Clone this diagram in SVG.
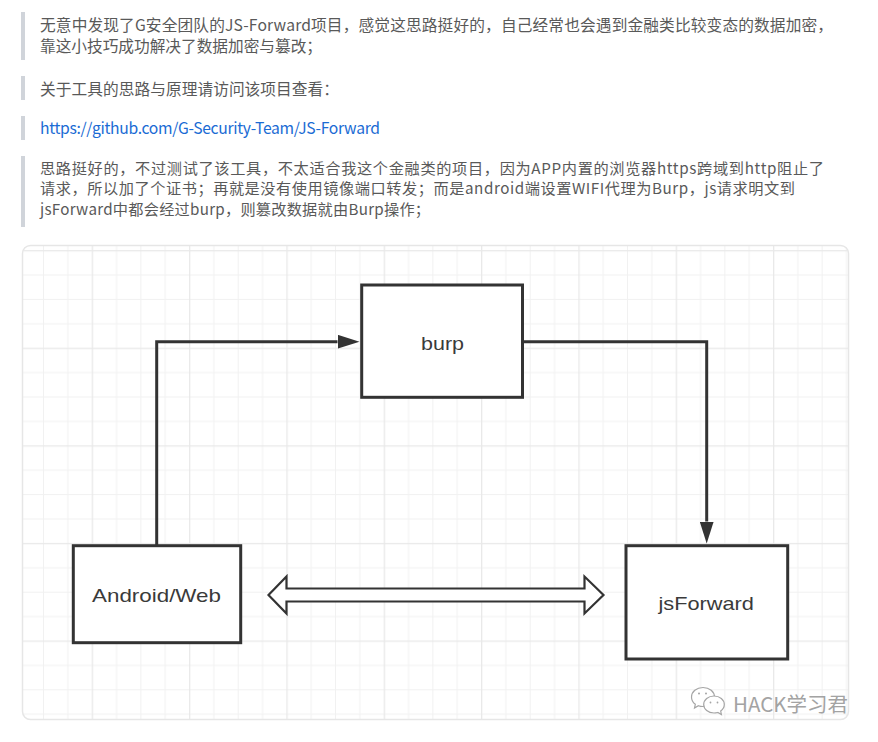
<svg xmlns="http://www.w3.org/2000/svg" width="878" height="742" viewBox="0 0 878 742">
  <style>
    .bar { fill: #d0d4da; }
    .body { font-family: "Noto Sans CJK SC", "Noto Sans", sans-serif; font-size: 15.7px; fill: #595959; }
    .tight { font-size: 15.2px; }
    .link { fill: #1a6bd4; }
    .box { fill: #ffffff; stroke: #333333; stroke-width: 3; }
    .label { font-family: "Liberation Sans", Arial, sans-serif; font-size: 19px; fill: #3a3a3a; text-anchor: middle; }
    .conn { fill: none; stroke: #333333; stroke-width: 3; }
    .wm { font-family: "Noto Sans CJK SC", sans-serif; font-size: 20px; fill: #a3a3a3; }
  </style>
  <defs>
    <marker id="arrow" markerUnits="userSpaceOnUse" markerWidth="22" markerHeight="14" refX="0" refY="7" orient="auto" viewBox="0 0 22 14">
      <path d="M0,0 L22,7 L0,14 z" fill="#333333"/>
    </marker>
    <pattern id="grid" patternUnits="userSpaceOnUse" x="91.7" y="347.7" width="97.33" height="97.6">
      <rect x="24.33" y="0" width="1" height="97.6" fill="#f1f1f1"/>
      <rect x="48.67" y="0" width="1" height="97.6" fill="#f1f1f1"/>
      <rect x="73" y="0" width="1" height="97.6" fill="#f1f1f1"/>
      <rect x="0" y="24.4" width="97.33" height="1" fill="#f1f1f1"/>
      <rect x="0" y="48.8" width="97.33" height="1" fill="#f1f1f1"/>
      <rect x="0" y="73.2" width="97.33" height="1" fill="#f1f1f1"/>
      <rect x="0" y="0" width="1.3" height="97.6" fill="#e9e9e9"/>
      <rect x="0" y="0" width="97.33" height="1.3" fill="#e9e9e9"/>
    </pattern>
    <clipPath id="cardclip">
      <rect x="22.5" y="245.5" width="826" height="474" rx="8"/>
    </clipPath>
  </defs>

  <rect width="878" height="742" fill="#ffffff"/>

  <!-- text blocks -->
  <g id="text">
    <rect class="bar" x="21" y="12" width="4" height="48"/>
    <rect class="bar" x="21" y="76" width="4" height="24"/>
    <rect class="bar" x="21" y="116" width="4" height="24"/>
    <rect class="bar" x="21" y="156" width="4" height="71"/>
    <text class="body" x="40" y="31" textLength="793" lengthAdjust="spacing">无意中发现了G安全团队的JS-Forward项目，感觉这思路挺好的，自己经常也会遇到金融类比较变态的数据加密，</text>
    <text class="body" x="40" y="52" textLength="282" lengthAdjust="spacing">靠这小技巧成功解决了数据加密与篡改；</text>
    <text class="body" x="40" y="95" textLength="299" lengthAdjust="spacing">关于工具的思路与原理请访问该项目查看：</text>
    <text class="body link" x="40" y="134" textLength="340" lengthAdjust="spacing">https://github.com/G-Security-Team/JS-Forward</text>
    <text class="body tight" x="40" y="173.5" textLength="784" lengthAdjust="spacing">思路挺好的，不过测试了该工具，不太适合我这个金融类的项目，因为APP内置的浏览器https跨域到http阻止了</text>
    <text class="body tight" x="40" y="194" textLength="755" lengthAdjust="spacing">请求，所以加了个证书；再就是没有使用镜像端口转发；而是android端设置WIFI代理为Burp，js请求明文到</text>
    <text class="body tight" x="40" y="214.5" textLength="390" lengthAdjust="spacing">jsForward中都会经过burp，则篡改数据就由Burp操作；</text>
  </g>

  <!-- card with grid -->
  <g id="canvas">
    <rect x="22.5" y="245.5" width="826" height="474" rx="8" fill="#ffffff"/>
    <rect x="22.5" y="245.5" width="826" height="474" fill="url(#grid)" clip-path="url(#cardclip)"/>
    <rect x="22.5" y="245.5" width="826" height="474" rx="8" fill="none" stroke="#e6e6e6" stroke-width="1.5"/>
  </g>

  <!-- connectors -->
  <g id="connectors">
    <path class="conn" d="M156.7,545 V341.7 H337.5" marker-end="url(#arrow)"/>
    <path class="conn" d="M523,341.7 H706.7 V521.5" marker-end="url(#arrow)"/>
    <polygon points="268.5,595 286.5,576.5 286.5,588.5 584.5,588.5 584.5,576.5 603.5,595 584.5,613.5 584.5,601.5 286.5,601.5 286.5,613.5" fill="#ffffff" stroke="#333333" stroke-width="2.2" stroke-linejoin="miter"/>
  </g>

  <!-- nodes -->
  <g id="node-burp">
    <rect class="box" x="361.7" y="285" width="160.8" height="112.3"/>
    <text class="label" x="442.5" y="350" textLength="43" lengthAdjust="spacingAndGlyphs">burp</text>
  </g>
  <g id="node-android">
    <rect class="box" x="73.3" y="545.7" width="167.4" height="97"/>
    <text class="label" x="156.5" y="601.7" textLength="129" lengthAdjust="spacingAndGlyphs">Android/Web</text>
  </g>
  <g id="node-jsforward">
    <rect class="box" x="626" y="545.7" width="161.7" height="113.3"/>
    <text class="label" x="706.2" y="610" textLength="95.5" lengthAdjust="spacingAndGlyphs">jsForward</text>
  </g>

  <!-- watermark -->
  <g id="watermark">
    <path d="M703,687.5 C709.5,687.5 714.5,691.8 714.5,697 C714.5,702.2 709.5,706.5 703,706.5 C701.3,706.5 699.8,706.2 698.4,705.7 L694.5,708 L695.3,704.3 C692.9,702.6 691.5,700 691.5,697 C691.5,691.8 696.5,687.5 703,687.5 z" fill="#ffffff" stroke="#a5a5a5" stroke-width="1.2"/>
    <path d="M714,696 C719.8,696 724.3,699.8 724.3,704.5 C724.3,707.1 722.9,709.4 720.7,711 L721.4,714.5 L717.8,712.5 C716.6,712.8 715.3,713 714,713 C708.2,713 703.7,709.2 703.7,704.5 C703.7,699.8 708.2,696 714,696 z" fill="#ffffff" stroke="#a5a5a5" stroke-width="1.2"/>
    <circle cx="699" cy="693.5" r="1" fill="#a5a5a5"/>
    <circle cx="706" cy="693.5" r="1" fill="#a5a5a5"/>
    <circle cx="710.5" cy="702.5" r="0.9" fill="#a5a5a5"/>
    <circle cx="717.5" cy="702.5" r="0.9" fill="#a5a5a5"/>
    <text class="wm" x="733" y="712" textLength="115" lengthAdjust="spacingAndGlyphs">HACK学习君</text>
  </g>
</svg>
